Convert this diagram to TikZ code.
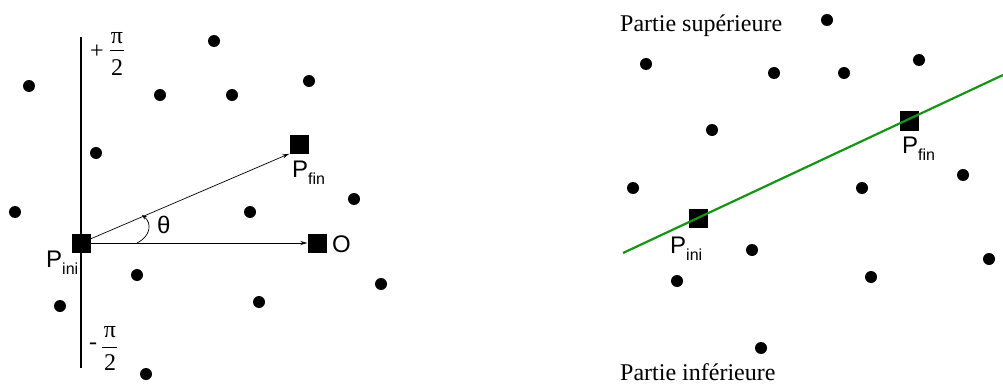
\documentclass[tikz,border=0pt]{standalone}
\usepackage{fontspec}
\usetikzlibrary{arrows.meta}
\setmainfont{Liberation Serif}
\newfontfamily\arialf{Liberation Sans}
\newcommand{\subtxt}[1]{\raisebox{-0.3em}{\fontsize{16}{16}\selectfont #1}}
\begin{document}
\begin{tikzpicture}[x=1pt,y=-1pt,
  dot/.style={circle,fill=black,inner sep=0pt,minimum size=12pt},
  sq/.style={rectangle,fill=black,inner sep=0pt,minimum size=19pt},
  lab/.style={inner sep=0pt,anchor=base west,font=\arialf\fontsize{24}{28}\selectfont},
  serif/.style={inner sep=0pt,font=\fontsize{24}{28}\selectfont},
  arr/.style={-{Stealth[length=7pt,width=4pt]},line width=0.7pt}]
\useasboundingbox (0,0) rectangle (1003,385);
% ---------- left panel ----------
\coordinate (vtop) at (81,37);
\coordinate (vbot) at (81,368);
\draw[line width=2.5pt] (vtop) -- (vbot);
\node[serif] (plus) at (97,52) {+};
\node[serif] (pi1) at (117,38) {π};
\node[serif] (two1) at (117,68) {2};
\draw[line width=0.6pt] (110,50) -- (124,50);
\node[serif] (minus) at (93,346) {-};
\node[serif] (pi2) at (110,332) {π};
\node[serif] (two2) at (110,363) {2};
\draw[line width=0.6pt] (102,347) -- (117,347);
\foreach \n/\p in {a1/{29,86},a2/{214,41},a3/{160,95},a4/{232,95},a5/{309,81},
  a6/{96,153},a7/{15,212},a8/{250,212},a9/{354,199},a10/{137,275},
  a11/{60,306},a12/{259,302},a13/{381,284},a14/{146,374}}
  \node[dot] (\n) at (\p) {};
\node[sq] (Lini) at (81,243) {};
\node[sq] (Lfin) at (299,144) {};
\node[sq] (LO) at (317,243) {};
\draw[arr] (Lini.center) -- (Lfin.south west);
\draw[arr] (Lini.east) -- (LO.west);
\coordinate (th1) at (137,243);
\coordinate (th2) at (142,215);
\draw[-{Stealth[length=5pt,width=4pt]},line width=0.7pt] (th1) .. controls (151,236) and (152,223) .. (th2);
\node[lab] (theta) at (157,233) {θ};
\node[lab] (LiniL) at (46,267) {P\subtxt{ini}};
\node[lab] (LfinL) at (292,177) {P\subtxt{fin}};
\node[lab] (LOL) at (332,252) {O};
% ---------- right panel ----------
\node[serif,anchor=base west] (sup) at (620,32) {Partie supérieure};
\node[serif,anchor=base west] (inf) at (620,380) {Partie inférieure};
\foreach \n/\p in {b1/{827,20},b2/{646,64},b3/{774,73},b4/{844,73},b5/{919,60},
  b6/{712,130},b7/{633,188},b8/{862,188},b9/{963,175},b10/{752,250},
  b11/{677,281},b12/{871,277},b13/{989,259},b14/{761,348}}
  \node[dot] (\n) at (\p) {};
\node[sq] (Rini) at (698,218) {};
\node[sq] (Rfin) at (909,121) {};
\coordinate (gA) at (623,253);
\coordinate (gB) at (1003,75);
\draw[line width=2.2pt,color={rgb,255:red,20;green,150;blue,20}] (gA) -- (gB);
\node[lab] (RiniL) at (670,253) {P\subtxt{ini}};
\node[lab] (RfinL) at (902,153) {P\subtxt{fin}};
\end{tikzpicture}
\end{document}
